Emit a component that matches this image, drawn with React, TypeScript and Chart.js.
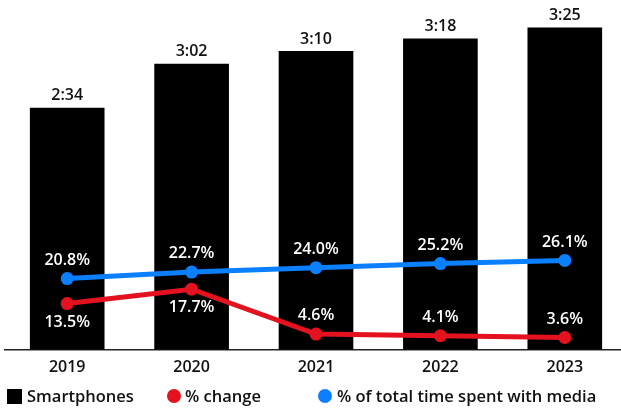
import React, { useEffect, useRef } from "react";
import { Chart, registerables } from "chart.js";

Chart.register(...registerables);

const years = ["2019", "2020", "2021", "2022", "2023"];
const smartphoneMinutes = [154, 182, 190, 198, 205];
const smartphoneLabels = ["2:34", "3:02", "3:10", "3:18", "3:25"];
const pctChange = [13.5, 17.7, 4.6, 4.1, 3.6];
const pctOfTotal = [20.8, 22.7, 24.0, 25.2, 26.1];

const BLUE = "#0A80FF";
const RED = "#E3121E";
const FONT = "'Open Sans', Roboto, sans-serif";

const labelPlugin = {
  id: "valueLabels",
  afterDatasetsDraw(chart: any) {
    const ctx = chart.ctx;
    ctx.save();
    ctx.textAlign = "center";
    ctx.textBaseline = "middle";
    ctx.font = `600 16px ${FONT}`;
    ctx.fillStyle = "#111";
    chart.getDatasetMeta(0).data.forEach((el: any, i: number) => {
      ctx.fillText(smartphoneLabels[i], el.x, el.y - 12);
    });
    ctx.font = `600 16px ${FONT}`;
    ctx.fillStyle = "#fff";
    chart.getDatasetMeta(2).data.forEach((el: any, i: number) => {
      ctx.fillText(pctOfTotal[i].toFixed(1) + "%", el.x, el.y - 18.5);
    });
    chart.getDatasetMeta(1).data.forEach((el: any, i: number) => {
      const below = pctChange[i] > 10;
      ctx.fillText(pctChange[i].toFixed(1) + "%", el.x, below ? el.y + 18.5 : el.y - 18.5);
    });
    ctx.restore();
  },
};

export default function App() {
  const ref = useRef<HTMLCanvasElement>(null);
  useEffect(() => {
    if (!ref.current) return;
    const chart = new Chart(ref.current, {
      type: "bar",
      data: {
        labels: years,
        datasets: [
          {
            type: "bar",
            label: "Smartphones",
            data: smartphoneMinutes,
            backgroundColor: "#000",
            barPercentage: 0.6,
            categoryPercentage: 1,
            yAxisID: "y",
            order: 2,
          },
          {
            type: "line",
            label: "% change",
            data: pctChange,
            borderColor: RED,
            backgroundColor: RED,
            borderWidth: 5,
            pointRadius: 6.5,
            pointBorderWidth: 0,
            yAxisID: "y2",
            order: 0,
          },
          {
            type: "line",
            label: "% of total time spent with media",
            data: pctOfTotal,
            borderColor: BLUE,
            backgroundColor: BLUE,
            borderWidth: 5,
            pointRadius: 6.5,
            pointBorderWidth: 0,
            yAxisID: "y2",
            order: 1,
          },
        ] as any,
      },
      options: {
        responsive: false,
        animation: false,
        layout: { autoPadding: false, padding: { left: 5, right: 0, top: 0, bottom: 25 } },
        plugins: { legend: { display: false }, tooltip: { enabled: false } },
        scales: {
          x: {
            grid: { display: false, drawTicks: false },
            border: { display: true, color: "#222", width: 1.5 },
            ticks: { color: "#111", font: { family: FONT, size: 16, weight: "600" }, padding: 8 },
          },
          y: { display: false, min: 0, max: 222.5 },
          y2: { display: false, min: 0, max: 102.2 },
        },
      },
      plugins: [labelPlugin],
    });
    return () => chart.destroy();
  }, []);

  const legendText: React.CSSProperties = {
    position: "absolute",
    top: 0,
    lineHeight: "18px",
    fontFamily: FONT,
    fontSize: 16.5,
    fontWeight: 600,
    color: "#111",
    whiteSpace: "nowrap",
  };
  const marker = (left: number, color: string, round: boolean): React.CSSProperties => ({
    position: "absolute",
    left,
    top: 2,
    width: round ? 14 : 15,
    height: round ? 14 : 15,
    borderRadius: round ? "50%" : 0,
    background: color,
  });
  return (
    <div style={{ position: "fixed", left: 0, top: 0, width: 621, height: 410, overflow: "hidden", background: "#fff" }}>
      <canvas ref={ref} width={627} height={410} style={{ display: "block" }} />
      <div style={{ position: "absolute", left: 0, top: 387, width: 621, height: 18 }}>
        <span style={marker(7, "#000", false)} />
        <span style={{ ...legendText, left: 27 }}>Smartphones</span>
        <span style={marker(167, RED, true)} />
        <span style={{ ...legendText, left: 185 }}>% change</span>
        <span style={marker(318, BLUE, true)} />
        <span style={{ ...legendText, left: 337 }}>% of total time spent with media</span>
      </div>
    </div>
  );
}
